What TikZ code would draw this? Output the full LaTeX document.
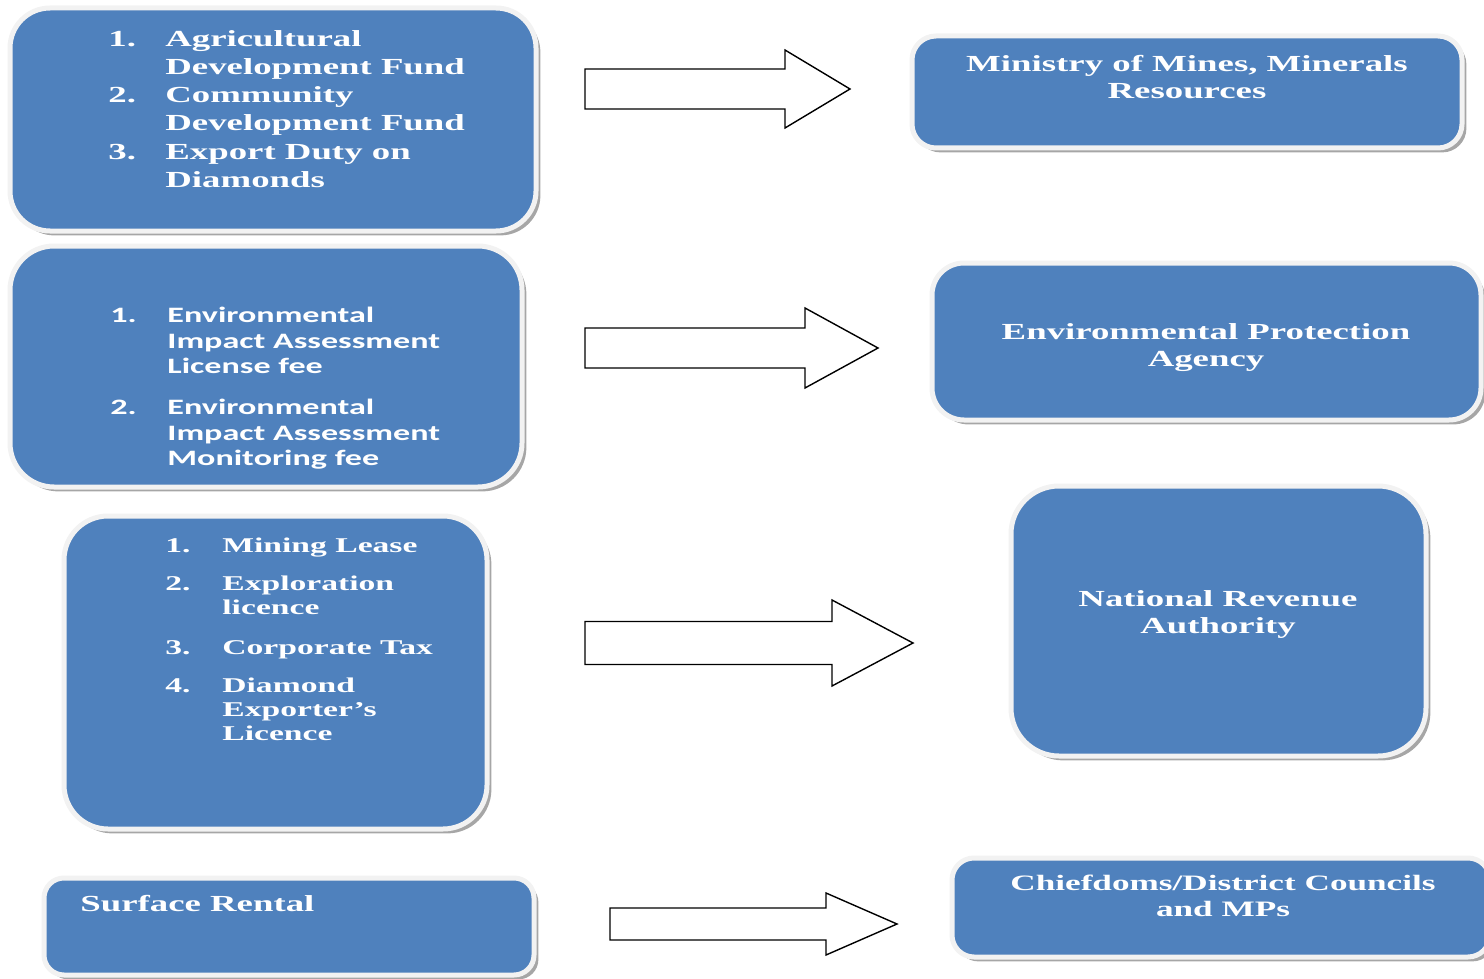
\documentclass[tikz,border=0pt]{standalone}
\usepackage{fontspec}
\setmainfont{Liberation Serif}[FakeStretch=1.6]
\newfontfamily\calfont{Carlito}[FakeStretch=1.55]
\usetikzlibrary{shadows}
\definecolor{clrBox}{HTML}{4F81BD}
\definecolor{clrRim}{HTML}{F2F2F2}
\newcommand{\listnum}[1]{\makebox[28.5pt][l]{#1}}
\newcommand{\listpad}{\hspace*{28.5pt}}
% block arrow: tail coordinate, body length, head length, half body, half head
\newcommand{\flowarrow}[5]{%
  \draw[blockarrow] (#1) ++(0,#4) -- ++(#2,0) -- ++(0,#5-#4) -- ++(#3,-#5)
    -- ++(-#3,-#5) -- ++(0,#5-#4) -- ++(-#2,0) -- cycle;}
\tikzset{
  box/.style = {rectangle, rounded corners=#1, draw=clrRim, line width=2.5pt, fill=clrBox,
                drop shadow={shadow xshift=2.2pt, shadow yshift=-2.2pt, fill=black!35, opacity=1}},
  box/.default = 20pt,
  boxtext/.style = {inner sep=0pt, text=white, align=left,
                    font=\bfseries\fontsize{11.5}{14.1}\selectfont},
  blockarrow/.style = {draw=black, fill=white, line width=0.7pt, line join=miter},
}

\begin{document}
\begin{tikzpicture}[
  x=0.5pt, y=-0.5pt,
  headtext/.style = {boxtext, align=center, font=\bfseries\fontsize{11.5}{13.5}\selectfont},
  feetext/.style = {boxtext, font=\calfont\bfseries\fontsize{11}{12.75}\selectfont},
  lictext/.style = {boxtext, font=\bfseries\fontsize{10.5}{12}\selectfont},
]
  \useasboundingbox (0,0) rectangle (1484,979);

  % Left column: revenue sources
  \node[box=20pt, minimum width=263pt, minimum height=111.5pt] (fundsBox) at (273,119.5) {};
  \node[box=22pt, minimum width=256pt, minimum height=120.5pt] (feeBox)   at (266,366.5) {};
  \node[box=22pt, minimum width=211.5pt, minimum height=156.5pt] (licBox) at (275.5,672.5) {};
  \node[box=10pt, minimum width=245pt, minimum height=48.5pt]  (rentBox)  at (289,926.5) {};

  \node[boxtext, anchor=north west] (fundsTxt) at (108,30)
    {\listnum{1.}Agricultural\\ \listpad Development Fund\\
     \listnum{2.}Community\\ \listpad Development Fund\\
     \listnum{3.}Export Duty on\\ \listpad Diamonds};
  \node[feetext, anchor=north west] (feeTxt) at (110,307)
    {\listnum{1.}Environmental\\ \listpad Impact Assessment\\ \listpad License fee\\[7.75pt]
     \listnum{2.}Environmental\\ \listpad Impact Assessment\\ \listpad Monitoring fee};
  \node[lictext, anchor=north west] (licTxt) at (165,538)
    {\listnum{1.}Mining Lease\\[7pt]
     \listnum{2.}Exploration\\ \listpad licence\\[8pt]
     \listnum{3.}Corporate Tax\\[7pt]
     \listnum{4.}Diamond\\ \listpad Exporter’s\\ \listpad Licence};
  \node[boxtext, anchor=north west] (rentTxt) at (80,895) {Surface Rental};

  % Right column: receiving bodies
  \node[box=12pt, minimum width=275pt, minimum height=56pt]    (minBox)   at (1187,92) {};
  \node[box=16pt, minimum width=274.5pt, minimum height=78.5pt] (epaBox)  at (1206.5,341.5) {};
  \node[box=24pt, minimum width=207.5pt, minimum height=135pt] (nraBox)   at (1218.5,621) {};
  \node[box=11pt, minimum width=269pt, minimum height=49.5pt]  (chiefBox) at (1221,907.5) {};

  \node[headtext, anchor=north] (minTxt)   at (1187,55)  {Ministry of Mines, Minerals\\ Resources};
  \node[headtext, anchor=north] (epaTxt)   at (1206,323) {Environmental Protection\\ Agency};
  \node[headtext, anchor=north] (nraTxt)   at (1218,590) {National Revenue\\ Authority};
  \node[headtext, anchor=north, font=\bfseries\fontsize{11}{13}\selectfont] (chiefTxt) at (1223,875)
    {Chiefdoms/District Councils\\ and MPs};

  % Block arrows between the columns
  \coordinate (arrFunds) at (585,89);
  \coordinate (arrFee)   at (585,348);
  \coordinate (arrLic)   at (585,643);
  \coordinate (arrRent)  at (610,924);
  \flowarrow{arrFunds}{200}{65}{20}{39}
  \flowarrow{arrFee}{220}{73}{20}{40}
  \flowarrow{arrLic}{247}{81}{21.5}{43}
  \flowarrow{arrRent}{216}{71}{16}{31}

\end{tikzpicture}
\end{document}
